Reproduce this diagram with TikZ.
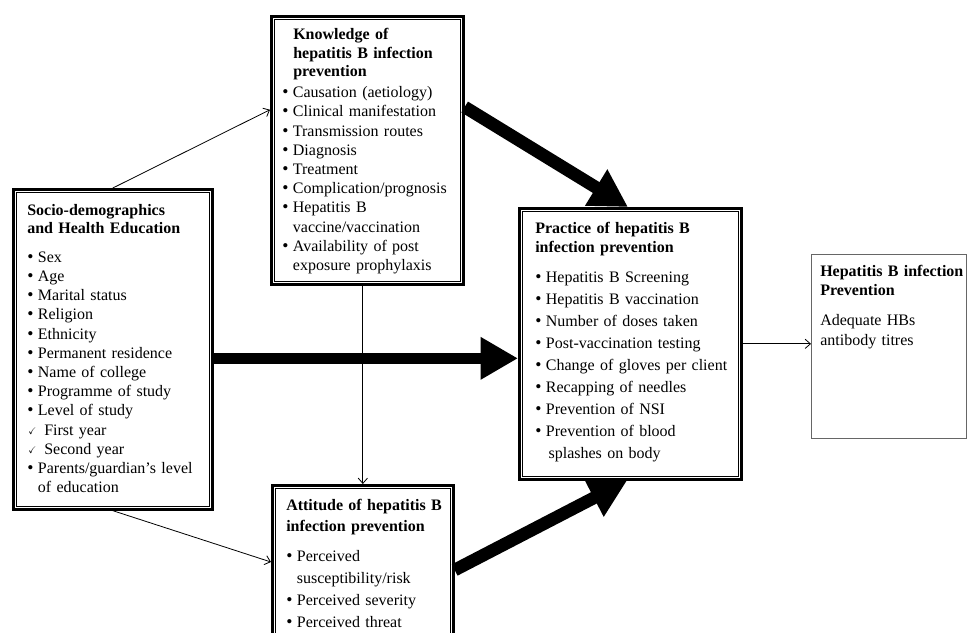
\documentclass[tikz,border=0pt]{standalone}
\usepackage{fontspec}
\usepackage{amssymb}
\setmainfont{Liberation Serif}
\usetikzlibrary{arrows.meta,calc,positioning}

% list lines with hanging indent
\newcommand{\bul}{\par\hangindent=8pt\hangafter=1\noindent\makebox[8pt][l]{\scalebox{1.1}{\textbullet}}}
\newcommand{\tck}{\par\hangindent=12.75pt\hangafter=1\noindent\makebox[12.75pt][l]{\hspace{0.8pt}\raisebox{0.5pt}{\scalebox{0.6}{$\checkmark$}}}}
\newcommand{\brk}{\hfil\break}
\newcommand{\skp}[2]{\fontsize{12pt}{#1}\selectfont\vspace{#2}}

\tikzset{
  dbox/.style={draw,line width=2pt,fill=white,inner sep=0pt,anchor=north west},
  obox/.style={draw=black!60,line width=0.6pt,fill=white,inner sep=0pt,anchor=north west},
  txt/.style={inner sep=0pt,anchor=north west,align=left},
  thinarr/.style={line width=0.6pt,-{Straight Barb[length=4pt,width=7pt]}},
  thickarr/.style={line width=8.5pt,-{Triangle[length=28pt,width=30pt]}}
}

\begin{document}
\begin{tikzpicture}[x=0.75pt,y=-0.75pt]
\useasboundingbox (0,0) rectangle (974,632);
\clip (0,0) rectangle (974,632);

% frames
\node[dbox,minimum width=149.25pt,minimum height=240pt] (socio) at (12,188) {};
\node[dbox,minimum width=144pt,minimum height=201pt] (know) at (270,15) {};
\node[dbox,minimum width=166.5pt,minimum height=203.25pt] (prac) at (518,207) {};
\node[dbox,minimum width=135.75pt,minimum height=190pt] (att) at (271,484) {};
\node[obox,minimum width=116.25pt,minimum height=138pt] (outc) at (811,254) {};
\foreach \n in {socio,know,prac,att}
  \draw[line width=0.5pt] ([shift={(3.4pt,-3.4pt)}]\n.north west) rectangle ([shift={(-3.4pt,3.4pt)}]\n.south east);

% texts
\node[txt,text width=132pt,font=\fontsize{12pt}{13.5pt}\selectfont] (socio-t) at (27,204) {%
  \textbf{Socio-demographics\\and Health Education}\par
  \skp{14.4pt}{7.35pt}%
  \bul Sex \bul Age \bul Marital status \bul Religion \bul Ethnicity
  \bul Permanent residence \bul Name of college \bul Programme of study
  \bul Level of study \tck First year \tck Second year
  \bul Parents/guardian's level\brk of education\par};
\node[txt,text width=132pt,font=\fontsize{12pt}{13.9pt}\selectfont] (know-t) at (282,28) {%
  {\leftskip=8.25pt\textbf{Knowledge of\\hepatitis B infection\\prevention}\par}
  \skp{14.4pt}{1.35pt}%
  \bul Causation (aetiology) \bul Clinical manifestation \bul Transmission routes
  \bul Diagnosis \bul Treatment \bul Complication/prognosis
  \bul Hepatitis B\brk vaccine/vaccination
  \bul Availability of post\brk exposure prophylaxis\par};
\node[txt,text width=150pt,font=\fontsize{12pt}{14.25pt}\selectfont] (prac-t) at (535,222) {%
  \textbf{Practice of hepatitis B\\infection prevention}\par
  \skp{16.5pt}{6pt}%
  \bul Hepatitis B Screening \bul Hepatitis B vaccination
  \bul Number of doses taken \bul Post-vaccination testing
  \bul Change of gloves per client \bul Recapping of needles
  \bul Prevention of NSI \bul Prevention of blood\brk\hspace*{2pt}splashes on body\par};
\node[txt,text width=122pt,font=\fontsize{12pt}{15.75pt}\selectfont] (att-t) at (286,499) {%
  \textbf{Attitude of hepatitis B\\infection prevention}\par
  \skp{16.5pt}{6pt}%
  \bul Perceived\brk susceptibility/risk \bul Perceived severity
  \bul Perceived threat\par};
\node[txt,text width=108pt,font=\fontsize{12pt}{14.25pt}\selectfont] (outc-t) at (820,265) {%
  \textbf{Hepatitis B infection\\Prevention}\par
  \skp{15pt}{7.5pt}%
  \noindent Adequate HBs\brk antibody titres\par};

% connectors
\draw[thinarr] (socio.north) -- ($(know.north west)!0.35!(know.south west)$);
\draw[thinarr] (socio.south) -- ($(att.north west)+(0,78)$);
\draw[thinarr] (know.south -| att.north) -- (att.north);
\coordinate (h1) at ($(socio.east)+(0,9)$);
\draw[thickarr] (h1) -- (h1 -| prac.west);
\draw[thickarr,line width=9.5pt] ($(know.north east)+(0,92)$) -- ($(prac.north west)+(110,0)$);
\draw[thickarr,line width=9.5pt] ($(att.north east)+(0,86)$) -- ($(prac.south west)+(109,0)$);
\draw[thinarr] (prac.east) -- (prac.east -| outc.west);
\end{tikzpicture}
\end{document}
